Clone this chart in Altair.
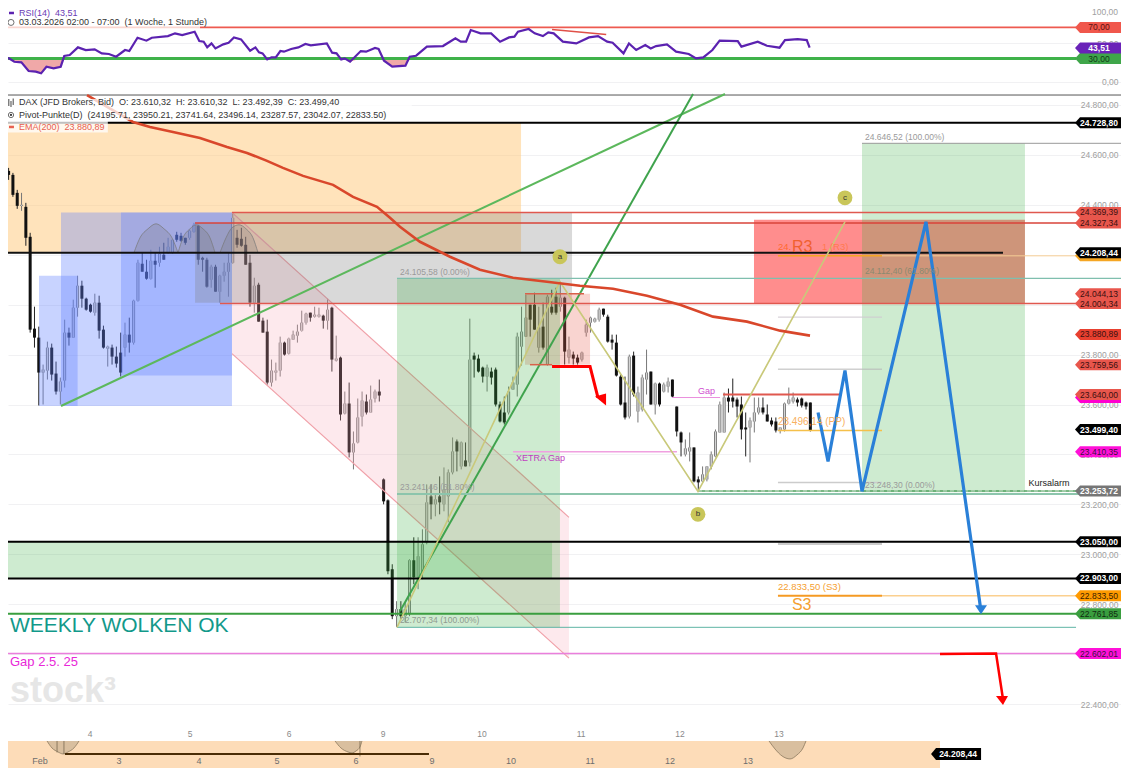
import altair as alt
import pandas as pd

FONT = "Liberation Sans"
NB = "\u00a0\u00a0"
highs = [24560,24548,24528,24460,24448,24408,24288,23992,23912,23760,23852,23844,23772,23708,23940,23908,24020,24116,24096,24028,24004,24044,24036,23916,23836,23840,23832,23888,23928,23948,24020,24180,24208,24180,24220,24208,24232,24248,24268,24260,24292,24288,24268,24300,24328,24320,24192,24188,24160,24160,24120,24168,24208,24364,24300,24308,24272,24200,24108,24088,23948,23940,23780,23768,23872,23852,23868,23896,23920,23976,23968,23968,23992,23988,23960,24024,23992,23876,23792,23652,23688,23492,23624,23652,23640,23676,23660,23700,23304,23220,22960,22812,22812,22808,22980,23068,23068,23100,23280,23280,23240,23312,23348,23340,23468,23460,23452,23448,23944,23808,23800,23752,23760,23748,23748,23612,23632,23672,23712,23888,23992,24040,24000,24048,23992,24008,24040,24060,24068,24092,24032,23872,23812,23800,23812,23940,23952,23948,23988,23984,23960,23880,23880,23720,23712,23800,23812,23672,23720,23820,23732,23688,23688,23688,23708,23700,23592,23492,23460,23488,23428,23312,23352,23352,23412,23500,23612,23648,23664,23704,23628,23632,23568,23548,23628,23628,23628,23600,23548,23548,23508,23608,23668,23648,23628,23628,23612,23608]
body_tops = [24548,24536,24520,24448,24400,24392,24272,23904,23868,23740,23828,23828,23724,23692,23888,23888,23988,24076,24076,24024,24000,24008,24008,23900,23832,23828,23792,23808,23880,23880,24016,24168,24164,24132,24176,24176,24204,24200,24232,24260,24280,24276,24268,24296,24320,24316,24188,24180,24152,24152,24116,24132,24168,24348,24268,24264,24240,24168,24076,24080,23936,23892,23736,23736,23848,23848,23864,23880,23892,23928,23964,23968,23960,23960,23956,23980,23988,23784,23788,23604,23604,23444,23548,23616,23612,23620,23652,23652,23300,23216,22940,22780,22780,22780,22976,22976,22992,23040,23208,23232,23220,23232,23260,23328,23412,23452,23448,23376,23780,23796,23784,23748,23748,23732,23740,23600,23568,23652,23688,23872,23892,23948,24000,24000,23908,23912,24032,23992,24032,24028,24028,23820,23800,23788,23808,23920,23948,23944,23980,23984,23952,23860,23848,23712,23608,23792,23796,23648,23708,23728,23732,23684,23684,23680,23692,23700,23592,23488,23424,23428,23428,23300,23320,23352,23400,23492,23600,23628,23628,23628,23620,23600,23508,23536,23568,23588,23588,23560,23536,23532,23508,23604,23620,23628,23620,23624,23608,23608]
body_bots = [24536,24520,24440,24396,24396,24268,23900,23868,23728,23728,23736,23720,23652,23652,23696,23868,23868,23988,24024,23980,23972,23968,23896,23828,23824,23792,23764,23728,23828,23848,23848,24016,24132,24104,24104,24160,24168,24180,24208,24208,24260,24256,24248,24268,24292,24180,24180,24072,24100,24052,24052,24116,24132,24168,24240,24236,24160,24008,24008,23932,23888,23688,23688,23728,23736,23800,23804,23860,23876,23896,23928,23948,23952,23952,23936,23936,23780,23776,23560,23564,23408,23408,23448,23552,23568,23568,23624,23636,23212,22932,22752,22752,22752,22752,22760,22908,22908,22928,23048,23200,23200,23208,23200,23232,23328,23412,23352,23352,23368,23780,23732,23712,23712,23708,23600,23532,23528,23568,23660,23680,23832,23872,23940,23900,23828,23828,23760,23968,23968,23992,23812,23788,23784,23768,23780,23888,23928,23932,23940,23960,23852,23848,23716,23600,23548,23552,23640,23572,23580,23700,23600,23600,23600,23652,23672,23632,23492,23448,23400,23412,23292,23288,23292,23300,23352,23392,23488,23488,23612,23612,23592,23500,23500,23508,23532,23568,23568,23532,23520,23496,23496,23500,23604,23612,23608,23596,23592,23496]
lows = [24476,24500,24432,24384,24376,24236,23888,23828,23596,23600,23700,23696,23640,23600,23668,23836,23868,23952,23988,23976,23968,23956,23864,23824,23752,23760,23748,23712,23792,23808,23840,24012,24132,24100,24100,24068,24152,24180,24204,24204,24252,24252,24240,24260,24288,24160,24132,24068,24068,24052,24008,24092,24032,24164,24228,24232,24160,23992,23968,23932,23888,23680,23672,23696,23712,23796,23800,23860,23848,23892,23920,23932,23948,23948,23904,23900,23732,23772,23536,23560,23388,23340,23444,23512,23560,23568,23608,23612,23200,22920,22740,22708,22740,22728,22752,22880,22860,22900,23040,23140,23152,23160,23172,23128,23320,23332,23340,23352,23352,23708,23728,23688,23652,23680,23592,23528,23520,23560,23660,23632,23756,23872,23872,23900,23808,23820,23756,23960,23960,23972,23760,23764,23760,23760,23772,23872,23888,23928,23932,23952,23848,23820,23712,23596,23540,23544,23632,23528,23572,23640,23600,23560,23592,23648,23648,23628,23472,23392,23392,23372,23288,23252,23288,23292,23340,23388,23488,23488,23568,23588,23548,23460,23392,23368,23488,23560,23560,23532,23512,23488,23484,23492,23600,23604,23592,23588,23580,23492]
rising = [0,0,0,0,1,0,0,0,0,1,1,0,0,1,1,0,1,1,0,0,0,1,0,0,1,0,0,0,1,0,1,1,0,0,1,0,1,0,1,1,0,0,0,1,1,0,0,0,1,0,1,1,1,1,0,0,0,0,1,0,0,0,1,1,1,0,1,1,1,1,1,0,1,1,0,1,0,1,0,1,0,1,1,1,0,1,1,0,0,0,0,1,0,1,1,0,1,1,1,0,1,0,1,1,1,0,1,0,1,0,0,0,1,0,0,0,0,1,1,1,1,1,0,0,1,0,1,0,0,1,0,1,0,0,1,1,1,1,1,0,0,0,0,0,0,1,0,1,1,1,0,1,0,1,1,0,0,0,1,1,0,0,1,1,1,1,1,1,0,0,0,0,0,1,1,1,0,0,0,0,1,1,1,1,0,0,0,0]
bar_start, bar_step = -0.8657, 0.04354

rsi_d = [-0.880,-0.819,-0.765,-0.693,-0.620,-0.548,-0.494,-0.440,-0.368,-0.296,-0.260,-0.205,-0.122,-0.043,0.047,0.119,0.191,0.264,0.354,0.397,0.480,0.570,0.624,0.787,0.859,0.931,1.057,1.104,1.148,1.184,1.227,1.267,1.346,1.400,1.454,1.526,1.617,1.671,1.707,1.743,1.790,1.833,1.876,1.923,1.959,2.032,2.104,2.176,2.230,2.392,2.446,2.490,2.537,2.573,2.627,2.735,2.789,2.879,2.915,2.970,3.053,3.186,3.229,3.294,3.403,3.565,3.691,3.745,3.799,3.846,3.944,4.052,4.142,4.233,4.287,4.323,4.431,4.492,4.575,4.629,4.684,4.776,4.912,5.040,5.132,5.224,5.279,5.389,5.444,5.517,5.609,5.664,5.718,5.828,5.920,6.048,6.122,6.195,6.287,6.360,6.543,6.580,6.745,6.837,6.965,7.020,7.148,7.240,7.269]
rsi_v = [32.4,30.3,26.0,25.2,14.1,13.2,11.1,19.6,17.5,19.6,33.3,34.6,44.4,41.0,41.8,36.7,35.9,32.4,41.0,39.7,56.8,53.0,56.8,58.9,62.4,60.2,64.5,52.5,51.7,44.4,49.5,43.1,48.3,50.4,57.2,54.7,40.1,44.4,38.0,36.7,29.0,31.6,31.6,39.7,38.9,42.3,44.4,48.7,47.0,49.5,37.6,36.7,29.0,30.3,26.0,39.7,38.9,43.6,42.3,27.3,19.6,20.9,32.4,33.7,45.3,46.1,56.0,51.7,51.7,66.6,62.4,62.4,51.7,57.2,58.1,64.5,67.9,62.4,58.9,63.6,62.4,51.7,49.5,57.2,58.9,51.7,50.4,36.7,49.5,41.0,47.4,43.1,46.1,48.3,38.9,35.9,30.3,31.6,41.0,53.0,52.5,45.3,51.7,46.5,44.0,53.8,55.1,53.8,44.0]

ema_d = [-0.03,0.434,0.606,0.838,1.111,1.384,1.586,1.788,1.949,2.152,2.455,2.657,2.899,3.03,3.131,3.333,3.636,3.939,4.273,4.616,4.949,5.283,5.626,5.96,6.293,6.636,6.97,7.273]
ema_p = [24840,24732,24712,24692,24668,24632,24608,24576,24548,24516,24480,24432,24392,24348,24312,24252,24192,24140,24108,24092,24076,24064,24036,24000,23952,23932,23896,23876]

grid_days = [0,1.01,2.01,2.96,3.96,4.96,5.96,6.96]
top_day_labels = ["4","5","6","9","10","11","12","13"]
nav_days = [-0.505,0.293,1.101,1.889,2.687,3.455,4.253,5.051,5.859,6.646]
nav_labels = ["Feb","3","4","5","6","9","10","11","12","13"]
price_ticks = [22400,22600,22800,23000,23200,23400,23600,23800,24000,24200,24400,24600,24800]

# d1, d2, price low, price high, colour, opacity
zones_back = [(-0.889,4.354,24208.44,24728.8,"#ffc878",0.5)]
zones_front = [
    (-0.515,-0.125,23594,24116,"#6080ff",0.35),
    (-0.293,1.434,23594,24369.39,"#6080ff",0.35),
    (0.313,1.434,23716,24369.39,"#6080ff",0.35),
    (1.434,4.869,24004.34,24369.39,"#808080",0.3),
    (1.061,1.434,24008,24327.34,"#808080",0.3),
    (4.394,5.051,23759.56,24044.13,"#e86050",0.27),
    (3.101,4.747,22707.34,24105.58,"#3cb043",0.25),
    (-0.889,4.667,22903,23050,"#3cb043",0.25),
    (6.707,9.444,24004.34,24340,"#ff3030",0.55),
    (7.798,9.444,23248.3,24646.52,"#3cb043",0.25),
]
channel_d = [1.434,4.838]
channel_top = [24369.39,23148]
channel_bot = [23804,22584]

LINE_END = 9.96
# price, d1, d2, colour, width
levels = [
    (24728.8,-0.9,LINE_END,"#000000",2),
    (24369.39,1.434,LINE_END,"#e0584f",1.5),
    (24327.34,1.061,LINE_END,"#d9433a",1.5),
    (24208.44,-0.9,9.222,"#111111",2),
    (24195.71,8.0,LINE_END,"#f8cf96",1),
    (24195.71,6.949,8.0,"#f5a623",1.5),
    (24105.58,3.101,10.42,"#7fbfae",1.2),
    (24646.52,7.798,10.42,"#999999",1),
    (24044.13,4.394,4.99,"#d9604a",1.5),
    (24004.34,1.313,LINE_END,"#e0584f",1.5),
    (23950.21,6.949,8.0,"#cfc8d0",1),
    (23759.56,4.444,4.667,"#d9604a",1.5),
    (23741.64,6.949,8.0,"#b8b8b8",1),
    (23640,6.394,7.576,"#e0584f",2),
    (23628,5.879,6.364,"#ea8fdd",1),
    (23496.14,6.949,8.0,"#f5c04a",1.5),
    (23410.35,4.273,5.929,"#f0a0e0",1.5),
    (23287.57,6.949,8.0,"#cccccc",1.5),
    (23241.48,3.101,10.42,"#8cc5ac",2),
    (23253.72,6.141,LINE_END,"#4f9f5c",1.5),
    (23042.07,6.949,8.0,"#cccccc",2.5),
    (23050,-0.9,LINE_END,"#000000",2),
    (22903,-0.9,LINE_END,"#000000",2),
    (22833.5,8.0,LINE_END,"#fbd08f",1.5),
    (22833.5,6.949,8.0,"#f59a23",2),
    (22761.85,-0.9,LINE_END,"#3a9e3f",2),
    (22707.34,3.101,LINE_END,"#5fb5a5",1),
    (22602.01,-0.9,LINE_END,"#ea7fdc",1.5),
]
green_a_d, green_a_p = [-0.293,6.414], [23594,24844]
green_b_d, green_b_p = [3.131,6.091], [22772,24844]
abc_d, abc_p = [3.101,4.747,6.141,7.626], [22707,24092,23252,24332]
marker_d, marker_p, marker_t = [4.747,6.141,7.626], [24192,23160,24428], ["a","b","c"]
blue_d = [7.354,7.455,7.626,7.798,8.444,9.0]
blue_p = [23568,23372,23736,23252,24332,22772]
red_a_d, red_a_p = [4.667,5.051,5.131], [23752,23752,23628]
red_b_d, red_b_p = [8.586,9.152,9.222], [22600,22602,22420]

arc_d = [[.444,.505,.586,.667,.747,.828,.889],[.889,.939,1.01,1.071,1.141,1.212,1.263],[1.313,1.374,1.434,1.505,1.576,1.646,1.697]]
arc_p = [[24208,24268,24304,24324,24304,24268,24208],[24208,24268,24304,24320,24304,24268,24208],[24208,24268,24308,24320,24304,24268,24208]]
bowl_d = [[-.434,-.384,-.323,-.273,-.222,-.162,-.111],[2.475,2.535,2.606,2.646,2.687,2.727,2.747],[6.859,6.919,6.99,7.071,7.141,7.202,7.232]]
bowl_p = [[22252,22224,22208,22200,22208,22224,22252],[22252,22224,22208,22204,22212,22228,22252],[22252,22220,22192,22180,22196,22224,22252]]

# text, d, price, colour, size
notes = [
    ("24.646,52 (100.00%)",7.828,24672,"#9a9a9a",8.5),
    ("24.105,58 (0.00%)",3.131,24132,"#9a9a9a",8.5),
    ("23.241,46 (61.80%)",3.131,23268,"#9a9a9a",8.5),
    ("22.707,34 (100.00%)",3.131,22736,"#8f9a8f",8.5),
    ("24.112,40 (61.80%)",7.828,24136,"#8a8a70",8.5),
    ("23.248,30 (0.00%)",7.828,23276,"#9a9a9a",8.5),
    ("XETRA Gap",4.303,23384,"#c040c0",9),
    ("Gap",6.141,23656,"#d050d0",9),
    ("Kursalarm",9.48,23284,"#222222",9),
    ("23.496,14 (PP)",6.949,23528,"#f8b060",10),
    ("22.833,50 (S3)",6.949,22868,"#f5a030",9.5),
    ("S3",7.09,22796,"#f5a030",16),
    ("24.",6.949,24232,"#ff6a30",9.5),
    ("R3",7.09,24232,"#f06030",16),
    ("1 (R3)",7.394,24232,"#ff7a50",9.5),
    ("WEEKLY WOLKEN OK",-0.808,22712,"#12998a",21),
    ("Gap 2.5. 25",-0.808,22568,"#e828d8",13),
    ("DAX (JFD Brokers, Bid)" + NB + "O: 23.610,32" + NB + "H: 23.610,32" + NB + "L: 23.492,39" + NB + "C: 23.499,40",-0.717,24812,"#333333",9),
    ("Pivot-Punkte(D)" + NB + "(24195.71, 23950.21, 23741.64, 23496.14, 23287.57, 23042.07, 22833.50)",-0.717,24760,"#333333",9),
    ("EMA(200)" + NB + "23.880,89",-0.717,24712,"#e8604f",9),
]
watermark = [("stock\u00b3",-0.808,22452,"#e6e6e6",36)]
# price, colour, label, label colour
tags = [
    (24728.8,"#000000","24.728,80","#ffffff"),
    (24369.39,"#e8564c","24.369,39","#3a1010"),
    (24327.34,"#e8564c","24.327,34","#3a1010"),
    (24195.71,"#f5a623","",""),
    (24208.44,"#000000","24.208,44","#ffffff"),
    (24044.13,"#e8564c","24.044,13","#3a1010"),
    (24004.34,"#e8564c","24.004,34","#3a1010"),
    (23880.89,"#e8402f","23.880,89","#3a1010"),
    (23759.56,"#e8564c","23.759,56","#3a1010"),
    (23628,"#ff00d0","",""),
    (23640,"#e8564c","23.640,00","#3a1010"),
    (23499.4,"#000000","23.499,40","#ffffff"),
    (23410.35,"#ff10d8","23.410,35","#3a103a"),
    (23253.72,"#767676","23.253,72","#ffffff"),
    (23050,"#000000","23.050,00","#ffffff"),
    (22903,"#000000","22.903,00","#ffffff"),
    (22833.5,"#ff9a00","22.833,50","#3a2000"),
    (22761.85,"#3a9e3f","22.761,85","#102a10"),
    (22602.01,"#ff10d8","22.602,01","#3a103a"),
]
rsi_tags = [(70,"#f0574c","70,00","#5a1010"),(30,"#3fa64a","30,00","#0f3a15"),(43.51,"#6a22b8","43,51","#ffffff")]

xs = alt.Scale(domain=[-0.8283,10.4141], nice=False, zero=False)
ys = alt.Scale(domain=[22143.7,24844.07], range=[760,86], nice=False, zero=False)
rs = alt.Scale(domain=[-15.4,94.9], range=[86,0], nice=False, zero=False)
GER = "replace(replace(replace(format(datum.value, ',.2f'), ',', '#'), '.', ','), '#', '.')"
TAG = "M-24,0 L-19,-5.5 L22,-5.5 L22,5.5 L-19,5.5 Z"
TAG_D = 10.192

def X(f): return alt.X(f + ":Q", scale=xs, axis=None)
def Y(f, s=ys): return alt.Y(f + ":Q", scale=s, axis=None)

def df(cols, rows): return pd.DataFrame(rows, columns=cols)

def zone_layer(rows, s=ys):
    d = df(["d1","d2","a","b","c","o"], rows)
    return alt.Chart(d).mark_rect(clip=True).encode(x=X("d1"), x2="d2", y=Y("a", s), y2="b",
        color=alt.Color("c:N", scale=None), opacity=alt.Opacity("o:Q", scale=None))

def rule_layer(rows, s=ys, **kw):
    d = df(["p","d1","d2","c","w"], rows)
    return alt.Chart(d).mark_rule(clip=True, **kw).encode(x=X("d1"), x2="d2", y=Y("p", s),
        color=alt.Color("c:N", scale=None), strokeWidth=alt.StrokeWidth("w:Q", scale=None))

def line_layer(ds, ps, color, w, s=ys):
    d = pd.DataFrame({"d": ds, "p": ps})
    return alt.Chart(d).mark_line(clip=True, color=color, strokeWidth=w).encode(x=X("d"), y=Y("p", s))

def head(dv, pv, path, color):
    d = pd.DataFrame({"d": [dv], "p": [pv]})
    return alt.Chart(d).mark_point(shape=path, size=4, filled=True, color=color, opacity=1).encode(x=X("d"), y=Y("p"))

def text_layer(rows, s=ys, align="left", **kw):
    d = df(["t","d","p","c","z"], rows)
    return alt.Chart(d).mark_text(align=align, baseline="middle", font=FONT, **kw).encode(
        x=X("d"), y=Y("p", s), text="t:N", color=alt.Color("c:N", scale=None), size=alt.Size("z:Q", scale=None))

def tag_layers(rows, s=ys):
    d = df(["p","c","t","tc"], rows).assign(d=TAG_D)
    shapes = alt.Chart(d).mark_point(shape=TAG, size=4, filled=True, opacity=1).encode(
        x=X("d"), y=Y("p", s), color=alt.Color("c:N", scale=None))
    white = d[d.tc == "#ffffff"]
    dark = d[(d.tc != "#ffffff") & (d.t != "")]
    return [shapes,
        alt.Chart(white).mark_text(font=FONT, fontSize=8.5, fontWeight="bold").encode(
            x=X("d"), y=Y("p", s), text="t:N", color=alt.Color("tc:N", scale=None)),
        alt.Chart(dark).mark_text(font=FONT, fontSize=8.5).encode(
            x=X("d"), y=Y("p", s), text="t:N", color=alt.Color("tc:N", scale=None))]

def vrule(dv, p1, p2, color, w, s=ys):
    d = pd.DataFrame({"d": [dv], "a": [p1], "b": [p2]})
    return alt.Chart(d).mark_rule(color=color, strokeWidth=w).encode(x=X("d"), y=Y("a", s), y2="b")

# ---------- main pane
base = alt.Chart(pd.DataFrame({"d": grid_days, "p": price_ticks[:8]})).mark_point(opacity=0).encode(
    x=alt.X("d:Q", scale=xs, title=None, axis=alt.Axis(values=grid_days, labels=False, ticks=False, domain=False,
        grid=True, gridColor="#f1f1f5", title=None)),
    y=alt.Y("p:Q", scale=ys, title=None, axis=alt.Axis(orient="right", values=price_ticks, domain=False, ticks=False,
        labelAlign="right", labelPadding=-3, labelColor="#a0a0a0", labelFontSize=8.5, labelFont=FONT,
        labelExpr=GER, grid=True, gridColor="#f1f1f3", title=None)))

bars = pd.DataFrame({"d": [bar_start + i * bar_step for i in range(len(highs))],
                     "hi": highs, "lo": lows, "t": body_tops, "b": body_bots, "up": rising})
wick_col = alt.condition("datum.up == 1", alt.value("#777777"), alt.value("#222222"))
wicks = alt.Chart(bars).mark_rule(strokeWidth=1).encode(x=X("d"), y=Y("lo"), y2="hi", color=wick_col)
bodies = alt.Chart(bars).mark_rule(strokeWidth=3).encode(x=X("d"), y=Y("b"), y2="t",
    color=alt.condition("datum.up == 1", alt.value("#6e6e6e"), alt.value("#111111")))
hollow = alt.Chart(bars[bars.up == 1]).mark_rule(strokeWidth=1.4, color="#d4d4d4").encode(x=X("d"), y=Y("b"), y2="t")

channel = alt.Chart(pd.DataFrame({"d": channel_d, "a": channel_top, "b": channel_bot})).mark_area(
    clip=True, color="#f8a8b8", opacity=0.25).encode(x=X("d"), y=Y("a"), y2="b")

arcs = []
for ds, ps in zip(arc_d, arc_p):
    frame = pd.DataFrame({"d": ds, "p": ps, "b": [ps[0]] * len(ps)})
    arcs.append(alt.Chart(frame).mark_area(interpolate="monotone", color="#707070", opacity=0.22).encode(x=X("d"), y=Y("p"), y2="b"))
    arcs.append(alt.Chart(frame).mark_line(interpolate="monotone", color="#777777", strokeWidth=0.7).encode(x=X("d"), y=Y("p")))

bowls = []
for ds, ps in zip(bowl_d, bowl_p):
    frame = pd.DataFrame({"d": ds, "p": ps, "b": [ps[0]] * len(ps)})
    bowls.append(alt.Chart(frame).mark_area(interpolate="monotone", color="#d9bf9f").encode(x=X("d"), y=Y("p"), y2="b"))
    bowls.append(alt.Chart(frame).mark_line(interpolate="monotone", color="#8c7a60", strokeWidth=0.8).encode(x=X("d"), y=Y("p")))

markers = pd.DataFrame({"d": marker_d, "p": marker_p, "t": marker_t})
marker_dots = alt.Chart(markers).mark_point(filled=True, size=220, color="#c9c65a", opacity=1).encode(x=X("d"), y=Y("p"))
marker_text = alt.Chart(markers).mark_text(font=FONT, fontSize=8, color="#333333").encode(x=X("d"), y=Y("p"), text="t:N")

day_text = [(t, d, 22280, "#8a8a8a", 8.5) for t, d in zip(top_day_labels, grid_days)]
nav_text = [(t, d, 22172, "#6e6e6e", 9) for t, d in zip(nav_labels, nav_days)]
nav_tag = pd.DataFrame({"d": [8.768], "p": [22200], "t": ["24.208,44"]})

main_layers = [
    base,
    zone_layer(zones_back),
    zone_layer([(-0.9,8.586,22143.7,22252,"#fddcb8",1)]),
    rule_layer([(24840,-0.9,10.5,"#555555",1)]),
    wicks, bodies, hollow,
    channel,
    line_layer(channel_d, channel_top, "#f0a0a8", 1.2),
    line_layer(channel_d, channel_bot, "#f0a0a8", 1.2),
    zone_layer(zones_front),
    *arcs,
    line_layer(green_a_d, green_a_p, "#5cb85c", 2),
    line_layer(green_b_d, green_b_p, "#3fa34d", 2),
    rule_layer(levels),
    rule_layer([(23253.72,6.141,LINE_END,"#ffffff",0.6)], strokeDash=[4,3]),
    line_layer(abc_d, abc_p, "#c9c97a", 1.6),
    line_layer(ema_d, ema_p, "#d9472b", 2.6),
    marker_dots, marker_text,
    line_layer(red_a_d, red_a_p, "#ff0000", 3),
    head(5.162, 23620, "M-6,-3 L5,-6 L5,6 Z", "#ff0000"),
    line_layer(red_b_d, red_b_p, "#ff0000", 2.5),
    head(9.222, 22420, "M-7,-3 L5,-3 L0,6 Z", "#ff0000"),
    line_layer(blue_d, blue_p, "#2a80d8", 3.2),
    head(9.0, 22784, "M-6,-3 L6,-3 L0,6 Z", "#2a80d8"),
    zone_layer([(-0.889,3.25,24740,24824,"#ffffff",0.75),(-0.86,0.18,24690,24740,"#ffffff",0.75)]),
    text_layer(notes),
    text_layer(watermark, fontWeight="bold"),
    rule_layer([(24712,-0.818,-0.768,"#e8604f",2.5)]),
    alt.Chart(pd.DataFrame({"d": [-0.798], "p": [24760]})).mark_point(size=28, color="#333333", strokeWidth=1).encode(x=X("d"), y=Y("p")),
    alt.Chart(pd.DataFrame({"d": [-0.798], "p": [24760]})).mark_point(size=5, filled=True, color="#333333", opacity=1).encode(x=X("d"), y=Y("p")),
    vrule(-0.82, 24796, 24824, "#444444", 1), vrule(-0.798, 24792, 24816, "#444444", 1), vrule(-0.776, 24800, 24826, "#444444", 1),
    text_layer(day_text, align="center"),
    *bowls,
    vrule(-0.333, 22252, 22206, "#7a6a50", 0.8), vrule(-0.263, 22252, 22200, "#7a6a50", 0.8), vrule(2.727, 22252, 22190, "#7a6a50", 0.8),
    rule_layer([(22200,-0.253,3.424,"#4a2c05",2)]),
    text_layer(nav_text, align="center"),
    alt.Chart(nav_tag).mark_point(shape="M-27,0 L-22,-6 L23,-6 L23,6 L-22,6 Z", size=4, filled=True, color="#000000", opacity=1).encode(x=X("d"), y=Y("p")),
    alt.Chart(nav_tag).mark_text(font=FONT, fontSize=8.5, fontWeight="bold", color="#ffffff").encode(x=X("d"), y=Y("p"), text="t:N"),
    *tag_layers(tags),
]

# ---------- RSI pane
rsi = pd.DataFrame({"d": rsi_d, "v": rsi_v})
rsi_base = alt.Chart(pd.DataFrame({"d": grid_days, "v": [50] * 8})).mark_point(opacity=0).encode(
    x=alt.X("d:Q", scale=xs, axis=None),
    y=alt.Y("v:Q", scale=rs, title=None, axis=alt.Axis(orient="right", values=[0,50], domain=False, ticks=False,
        labelAlign="right", labelPadding=-3, labelColor="#a0a0a0", labelFontSize=8.5, labelFont=FONT,
        labelExpr=GER, grid=True, gridColor="#f1f1f3", title=None)))
below = alt.Chart(rsi).transform_calculate(low="min(datum.v, 30)").mark_area(color="#f0a8a8", clip=True).encode(
    x=X("d"), y=alt.Y("low:Q", scale=rs, axis=None), y2=alt.Y2(datum=30))
rsi_layers = [
    rsi_base,
    rule_layer([(70,1.111,LINE_END,"#ee5a50",1.6)], s=rs),
    rule_layer([(70,-0.889,1.111,"#fad6d0",1.6)], s=rs),
    below,
    rule_layer([(30,-0.9,LINE_END,"#3fb24a",3)], s=rs),
    line_layer([4.667,5.214],[67.2,60.9],"#e05048",1.5,s=rs),
    line_layer(rsi_d, rsi_v, "#5b22b0", 2.2, s=rs),
    text_layer([("RSI(14)" + NB + "43,51",-0.717,88.5,"#6a3bb5",9),
                ("03.03.2026 02:00 - 07:00" + NB + "(1 Woche, 1 Stunde)",-0.717,76.4,"#333333",9)], s=rs),
    text_layer([("100,00",10.384,89.5,"#a0a0a0",8.5)], s=rs, align="right"),
    rule_layer([(88.5,-0.818,-0.768,"#5b22b0",2.5)], s=rs),
    alt.Chart(pd.DataFrame({"d": [-0.798], "v": [76.4]})).mark_point(size=36, color="#333333", strokeWidth=1).encode(x=X("d"), y=Y("v", rs)),
    *tag_layers(rsi_tags, s=rs),
]

chart = alt.layer(*main_layers, *rsi_layers).resolve_scale(y="independent").properties(
    width=1113, height=760, padding=0, background="#ffffff",
    autosize=alt.AutoSizeParams(type="none")).configure_view(stroke=None)
chart.save("out.html", embed_options={"renderer": "svg", "actions": False})
